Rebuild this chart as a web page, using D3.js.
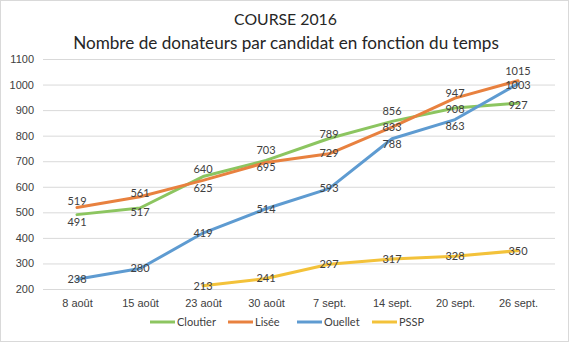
<!DOCTYPE html>
<html><head><meta charset="utf-8">
<script src="https://cdn.jsdelivr.net/npm/d3@7"></script>
<style>
html,body{margin:0;padding:0;background:#fff;}
svg{display:block;font-family:Lato,"Open Sans",sans-serif;}
</style></head>
<body>
<svg id="c" width="570" height="343"></svg>
<script>
const categories = ["8 août","15 août","23 août","30 août","7 sept.","14 sept.","20 sept.","26 sept."];
const seriesNames = ["Cloutier","Lisée","Ouellet","PSSP"];
const cloutier = [491,517,640,703,789,856,908,927];
const lisee    = [519,561,625,695,729,833,947,1015];
const ouellet  = [238,280,419,514,593,788,863,1003];
const pssp     = [null,null,213,241,297,317,328,350];
const yTicks   = [200,300,400,500,600,700,800,900,1000,1100];

const colors = ["#8cc560","#e8813f","#5e9bd1","#f3c23a"];
// label vertical offsets (px) relative to the point, per series
const labelDy = [
  [8,4,-7,-10,-4,-10,1,2],
  [-6,-4,8,5,-1,0,-5,-10],
  [0,0,0,0,0,5,7,1],
  [0,0,0,0,0,0,0,0]
];
const allSeries = [cloutier, lisee, ouellet, pssp];

const svg = d3.select("#c");
svg.append("rect").attr("x",0.5).attr("y",0.5).attr("width",568).attr("height",341)
  .attr("fill","#fff").attr("stroke","#d9d9d9");

const x = d3.scalePoint().domain(categories).range([77,518]);
const y = d3.scaleLinear().domain([200,1100]).range([289,59]);

// gridlines
const yAxis = d3.axisLeft(y).tickValues(yTicks).tickFormat(d3.format("d"))
  .tickSize(-(555-43)).tickPadding(9);
const gy = svg.append("g").attr("transform","translate(43,0)").call(yAxis);
gy.select(".domain").remove();
gy.selectAll(".tick line").attr("stroke","#d9d9d9").attr("stroke-width",1);
gy.selectAll(".tick text").attr("fill","#404040").style("font-size","11px");

const xAxis = d3.axisBottom(x).tickSize(0).tickPadding(10);
const gx = svg.append("g").attr("transform","translate(0,289)").call(xAxis);
gx.select(".domain").remove();
gx.selectAll(".tick text").attr("fill","#404040").style("font-size","11px");

// title
const t1 = svg.append("text").attr("x",285.5).attr("y",25).attr("text-anchor","middle")
  .attr("fill","#262626").style("font-size","17px").text("COURSE 2016");
const t2 = svg.append("text").attr("x",286).attr("y",49).attr("text-anchor","middle")
  .attr("fill","#262626").style("font-size","17px").text("Nombre de donateurs par candidat en fonction du temps");
function fit(sel, target){
  const w = sel.node().getComputedTextLength();
  const fs = parseFloat(sel.style("font-size"));
  sel.style("font-size", (fs*target/w).toFixed(2)+"px");
}
fit(t1, 103); fit(t2, 426);

const line = d3.line().defined(d=>d!=null).x((d,i)=>x(categories[i])).y(d=>y(d));
allSeries.forEach((s,k)=>{
  svg.append("path").datum(s).attr("d", line)
    .attr("fill","none").attr("stroke",colors[k]).attr("stroke-width",3)
    .attr("stroke-linejoin","round").attr("stroke-linecap","round");
});
allSeries.forEach((s,k)=>{
  svg.append("g").selectAll("text").data(s.map((v,i)=>({v,i})).filter(d=>d.v!=null))
    .join("text")
    .attr("x",d=>x(categories[d.i]))
    .attr("y",d=>y(d.v)+labelDy[k][d.i])
    .attr("dy","0.35em")
    .attr("text-anchor","middle")
    .attr("fill","#404040").style("font-size","11px")
    .text(d=>d.v);
});

// legend
const legX = [150,228,297,372];
const lg = svg.append("g").attr("transform","translate(0,322)");
seriesNames.forEach((n,k)=>{
  lg.append("line").attr("x1",legX[k]).attr("x2",legX[k]+25).attr("y1",0).attr("y2",0)
    .attr("stroke",colors[k]).attr("stroke-width",3);
  lg.append("text").attr("x",legX[k]+27).attr("y",0).attr("dy","0.35em")
    .attr("fill","#404040").style("font-size","11px").text(n);
});
</script>
</body></html>
